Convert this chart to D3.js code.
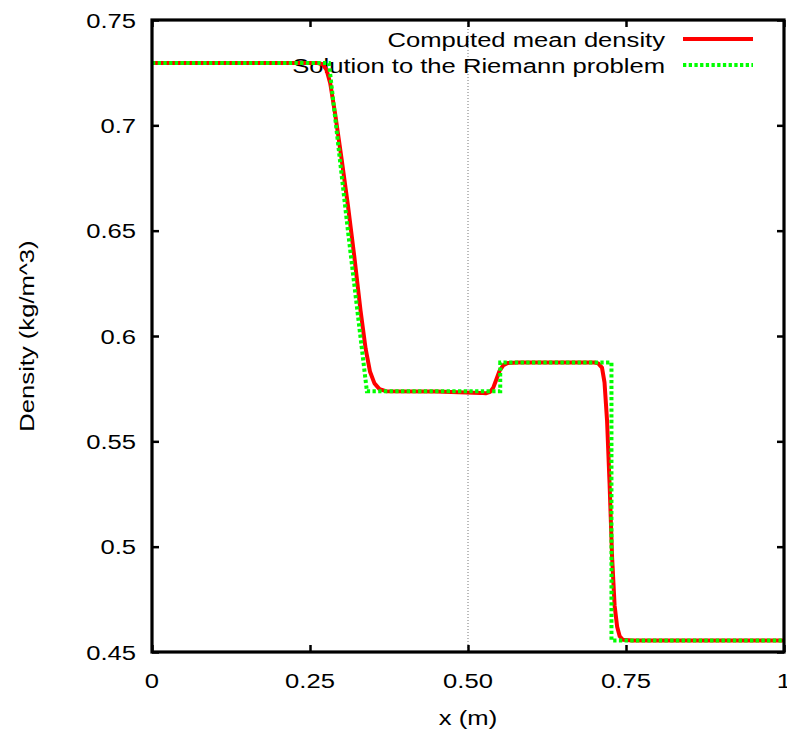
<!DOCTYPE html>
<html>
<head>
<meta charset="utf-8">
<script src="https://cdn.jsdelivr.net/npm/d3@7"></script>
<style>
body { margin: 0; background: #fff; }
text { font-family: "Liberation Sans", Arial, sans-serif; font-size: 21px; fill: #000; }
</style>
</head>
<body>
<div id="chart"></div>
<script>
// mean density from the computation
var computedX = [0, 0.262, 0.270, 0.276, 0.282, 0.290, 0.300, 0.310, 0.320, 0.330, 0.338, 0.345, 0.352, 0.360, 0.370, 0.45, 0.52, 0.528, 0.535, 0.540, 0.545, 0.550, 0.556, 0.563, 0.58, 0.70, 0.706, 0.712, 0.716, 0.720, 0.724, 0.728, 0.732, 0.736, 0.740, 0.745, 0.76, 1];
var computedY = [0.7296, 0.7296, 0.7290, 0.7265, 0.720, 0.705, 0.684, 0.662, 0.638, 0.612, 0.594, 0.583, 0.5775, 0.5748, 0.5738, 0.5736, 0.5730, 0.5728, 0.5735, 0.5755, 0.5795, 0.5835, 0.5862, 0.5872, 0.5874, 0.5874, 0.587, 0.585, 0.578, 0.560, 0.530, 0.495, 0.472, 0.462, 0.4575, 0.4558, 0.4555, 0.4555];
// exact Riemann solution
var exactX = [0, 0.280, 0.310, 0.340, 0.551, 0.551, 0.727, 0.727, 1];
var exactY = [0.7296, 0.7296, 0.650, 0.5738, 0.5738, 0.5874, 0.5874, 0.4555, 0.4555];

var xTicks = [0, 0.25, 0.5, 0.75, 1];
var xTickLabels = ["0", "0.25", "0.50", "0.75", "1"];
var yTicks = [0.45, 0.5, 0.55, 0.6, 0.65, 0.7, 0.75];
var yTickLabels = ["0.45", "0.5", "0.55", "0.6", "0.65", "0.7", "0.75"];
var seriesNames = ["Computed mean density", "Solution to the Riemann problem"];

var W = 787, H = 733;
var pL = 152, pR = 784, pT = 20, pB = 652;
var sx = 1.22; // the font in the picture is drawn wide

var x = d3.scaleLinear().domain([0, 1]).range([pL, pR]);
var y = d3.scaleLinear().domain([0.45, 0.75]).range([pB, pT]);

var svg = d3.select("#chart").append("svg").attr("width", W).attr("height", H);

function label(px, py, txt, anchor, rot) {
	var t = "translate(" + px + "," + py + ")" + (rot ? " rotate(" + rot + ")" : "") + " scale(" + sx + ",1)";
	return svg.append("text").attr("transform", t).attr("text-anchor", anchor).text(txt);
}

svg.append("clipPath").attr("id", "clip").append("rect")
	.attr("x", pL).attr("y", pT).attr("width", pR - pL).attr("height", pB - pT);

// dotted line at x = 0.5
svg.append("line").attr("x1", x(0.5)).attr("x2", x(0.5)).attr("y1", pT).attr("y2", pB)
	.attr("stroke", "#777").attr("stroke-width", 1).attr("stroke-dasharray", "1,2");

// key text sits under the curves
label(665, 47, seriesNames[0], "end");
label(665, 73, seriesNames[1], "end");

var line = d3.line().x(function(d){ return x(d[0]); }).y(function(d){ return y(d[1]); });
var computed = d3.zip(computedX, computedY);
var exact = d3.zip(exactX, exactY);

var g = svg.append("g").attr("clip-path", "url(#clip)");
g.append("path").datum(computed).attr("d", line).attr("fill", "none")
	.attr("stroke", "#ff0000").attr("stroke-width", 4).attr("stroke-linejoin", "round");
g.append("path").datum(exact).attr("d", line).attr("fill", "none")
	.attr("stroke", "#00ff00").attr("stroke-width", 4).attr("stroke-dasharray", "3.3,2.4");

// ticks, inward and mirrored
var axB = d3.axisBottom(x).tickValues(xTicks).tickSize(-7).tickFormat("");
var axT = d3.axisTop(x).tickValues(xTicks).tickSize(-7).tickFormat("");
var axL = d3.axisLeft(y).tickValues(yTicks).tickSize(-7).tickFormat("");
var axR = d3.axisRight(y).tickValues(yTicks).tickSize(-7).tickFormat("");
[[axB, 0, pB], [axT, 0, pT], [axL, pL, 0], [axR, pR, 0]].forEach(function(a){
	var ag = svg.append("g").attr("transform", "translate(" + a[1] + "," + a[2] + ")").call(a[0]);
	ag.select(".domain").remove();
	ag.selectAll(".tick line").attr("stroke", "#000").attr("stroke-width", 2.5);
});

svg.append("rect").attr("x", pL).attr("y", pT).attr("width", pR - pL).attr("height", pB - pT)
	.attr("fill", "none").attr("stroke", "#000").attr("stroke-width", 3.2);

xTicks.forEach(function(v, i){ label(x(v), 688, xTickLabels[i], "middle"); });
yTicks.forEach(function(v, i){ label(136, y(v) + 7.5, yTickLabels[i], "end"); });

label(x(0.5), 725, "x (m)", "middle");
label(34, (pT + pB) / 2, "Density (kg/m^3)", "middle", -90);

svg.append("line").attr("x1", 683).attr("x2", 753).attr("y1", 39).attr("y2", 39)
	.attr("stroke", "#ff0000").attr("stroke-width", 4);
svg.append("line").attr("x1", 683).attr("x2", 753).attr("y1", 65).attr("y2", 65)
	.attr("stroke", "#00ff00").attr("stroke-width", 4).attr("stroke-dasharray", "3.3,2.4");
</script>
</body>
</html>
